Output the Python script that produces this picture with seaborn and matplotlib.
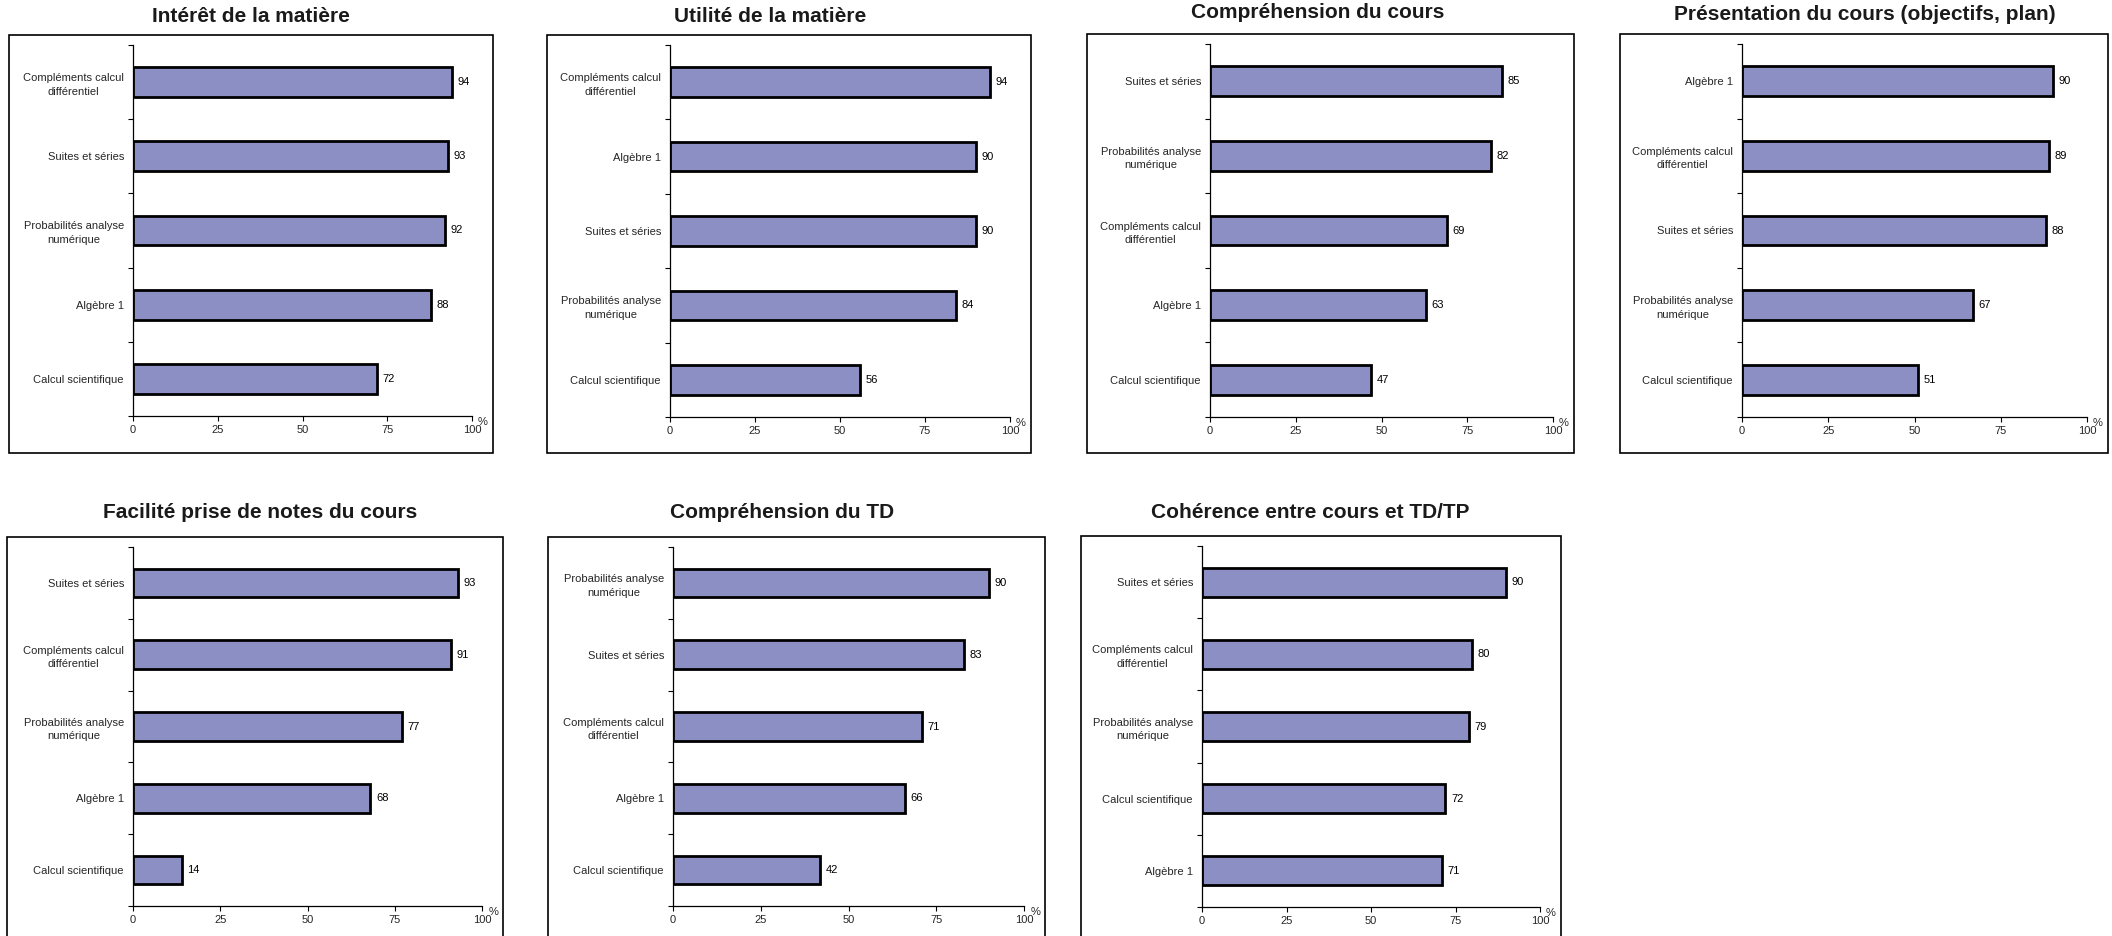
import textwrap
import numpy as np
import seaborn as sns
import matplotlib
matplotlib.use('Agg')
import matplotlib.pyplot as plt
import matplotlib.transforms as mtransforms
from matplotlib.patches import Rectangle

sns.set_style('white')
plt.rcParams['font.family'] = ['Liberation Sans', 'DejaVu Sans']

# Data, one block per panel (top to bottom order as drawn)
titles = [
    'Intérêt de la matière',
    'Utilité de la matière',
    'Compréhension du cours',
    'Présentation du cours (objectifs, plan)',
    'Facilité prise de notes du cours',
    'Compréhension du TD',
    'Cohérence entre cours et TD/TP',
]

interet_labels = ['Compléments calcul différentiel', 'Suites et séries',
                  'Probabilités analyse numérique', 'Algèbre 1', 'Calcul scientifique']
interet_values = [94, 93, 92, 88, 72]

utilite_labels = ['Compléments calcul différentiel', 'Algèbre 1', 'Suites et séries',
                  'Probabilités analyse numérique', 'Calcul scientifique']
utilite_values = [94, 90, 90, 84, 56]

compr_cours_labels = ['Suites et séries', 'Probabilités analyse numérique',
                      'Compléments calcul différentiel', 'Algèbre 1', 'Calcul scientifique']
compr_cours_values = [85, 82, 69, 63, 47]

presentation_labels = ['Algèbre 1', 'Compléments calcul différentiel', 'Suites et séries',
                       'Probabilités analyse numérique', 'Calcul scientifique']
presentation_values = [90, 89, 88, 67, 51]

notes_labels = ['Suites et séries', 'Compléments calcul différentiel',
                'Probabilités analyse numérique', 'Algèbre 1', 'Calcul scientifique']
notes_values = [93, 91, 77, 68, 14]

compr_td_labels = ['Probabilités analyse numérique', 'Suites et séries',
                   'Compléments calcul différentiel', 'Algèbre 1', 'Calcul scientifique']
compr_td_values = [90, 83, 71, 66, 42]

coherence_labels = ['Suites et séries', 'Compléments calcul différentiel',
                    'Probabilités analyse numérique', 'Calcul scientifique', 'Algèbre 1']
coherence_values = [90, 80, 79, 72, 71]

x_ticks = [0, 25, 50, 75, 100]

panels = [
    (interet_labels, interet_values),
    (utilite_labels, utilite_values),
    (compr_cours_labels, compr_cours_values),
    (presentation_labels, presentation_values),
    (notes_labels, notes_values),
    (compr_td_labels, compr_td_values),
    (coherence_labels, coherence_values),
]

# Layout in pixels of the 2112x936 image: axes box, frame box, title centre
W, H = 2112, 936
axes_px = [(133, 45, 472, 416), (670, 45, 1010, 417), (1210, 44, 1553, 417),
           (1742, 44, 2087, 417), (133, 547, 482, 906), (673, 547, 1024, 906),
           (1202, 546, 1540, 907)]
frame_px = [(9, 35, 493, 453), (547, 35, 1031, 453), (1087, 34, 1574, 453),
            (1620, 34, 2108, 453), (7, 537, 503, 960), (548, 537, 1045, 960),
            (1081, 536, 1561, 960)]
title_px = [(251, 17), (770, 17), (1318, 13), (1865, 15),
            (260, 512), (782, 512), (1310, 513)]

bar_color = '#8B8FC4'

fig = plt.figure(figsize=(W / 100, H / 100), dpi=100)

for i, (labels, values) in enumerate(panels):
    x0, y0, x1, y1 = axes_px[i]
    ax = fig.add_axes([x0 / W, 1 - y1 / H, (x1 - x0) / W, (y1 - y0) / H])
    wrapped = [textwrap.fill(s, 20) for s in labels]
    sns.barplot(x=values, y=wrapped, ax=ax, color=bar_color, width=0.4,
                edgecolor='black', linewidth=2, saturation=1, orient='h')
    ax.bar_label(ax.containers[0], padding=4, fontsize=8, color='black')

    ax.set_xlim(0, 100)
    ax.set_ylim(4.5, -0.5)
    ax.set_xticks(x_ticks)
    ax.set_xlabel('')
    ax.set_ylabel('')
    ax.set_yticks(np.arange(-0.5, 5, 1), minor=True)
    ax.tick_params(axis='y', which='major', length=0, pad=6.5, labelsize=8)
    ax.tick_params(axis='y', which='minor', left=True, length=3.5, width=0.8, color='black')
    ax.tick_params(axis='x', which='major', bottom=True, length=3.5, width=0.8,
                   color='black', pad=3, labelsize=8)
    for lbl in ax.get_yticklabels():
        lbl.set_multialignment('center')
        lbl.set_linespacing(1.45)
    for side in ['top', 'right']:
        ax.spines[side].set_visible(False)
    for side in ['left', 'bottom']:
        ax.spines[side].set_color('black')
        ax.spines[side].set_linewidth(0.9)

    trans = mtransforms.blended_transform_factory(ax.transData, ax.transAxes)
    ax.text(103.2, -0.016, '%', transform=trans, fontsize=8, ha='center', va='center')

    fx0, fy0, fx1, fy1 = frame_px[i]
    fig.add_artist(Rectangle((fx0 / W, 1 - fy1 / H), (fx1 - fx0) / W, (fy1 - fy0) / H,
                             transform=fig.transFigure, fill=False,
                             edgecolor='black', linewidth=1.2))
    tx, ty = title_px[i]
    fig.text(tx / W, 1 - ty / H, titles[i], ha='center', va='center',
             fontsize=15, fontweight='bold', color='#1a1a1a')

fig.savefig('out.png', dpi=100, facecolor='white')
